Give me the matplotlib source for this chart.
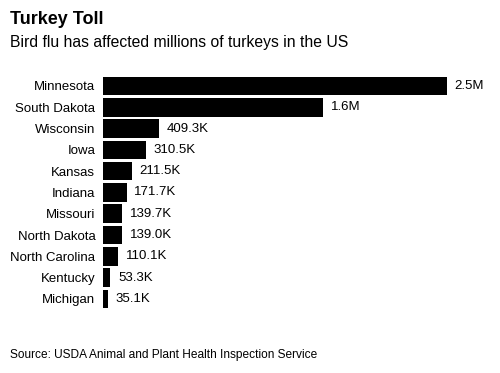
import matplotlib
matplotlib.use("Agg")
import matplotlib.pyplot as plt

plt.rcParams['font.family'] = ['Liberation Sans', 'DejaVu Sans']

states = ['Minnesota', 'South Dakota', 'Wisconsin', 'Iowa', 'Kansas', 'Indiana',
          'Missouri', 'North Dakota', 'North Carolina', 'Kentucky', 'Michigan']
birds = [2.5e6, 1.6e6, 409.3e3, 310.5e3, 211.5e3, 171.7e3,
         139.7e3, 139.0e3, 110.1e3, 53.3e3, 35.1e3]
labels = ['2.5M', '1.6M', '409.3K', '310.5K', '211.5K', '171.7K',
          '139.7K', '139.0K', '110.1K', '53.3K', '35.1K']

fig = plt.figure(figsize=(5, 3.73), dpi=100)
ax = fig.add_axes([0.206, 0.17, 0.688, 0.628])

ypos = list(range(len(states)))
ax.barh(ypos, birds, height=0.87, color='black')
ax.set_ylim(len(states) - 0.5, -0.5)
ax.set_xlim(0, 2.5e6)
ax.set_yticks(ypos)
ax.set_yticklabels(states, fontsize=9.5)
ax.tick_params(axis='y', length=0, pad=5.5)
ax.set_xticks([])
for s in ax.spines.values():
    s.set_visible(False)

for y, v, lab in zip(ypos, birds, labels):
    ax.annotate(lab, (v, y), xytext=(5.5, 0), textcoords='offset points',
                va='center', ha='left', fontsize=9.5, clip_on=False)

fig.text(0.02, 0.948, 'Turkey Toll', fontsize=13, fontweight='bold', va='center')
fig.text(0.02, 0.885, 'Bird flu has affected millions of turkeys in the US', fontsize=11.3, va='center')
fig.text(0.02, 0.047, 'Source: USDA Animal and Plant Health Inspection Service', fontsize=8.6, va='center')

fig.savefig('out.png', dpi=100)
